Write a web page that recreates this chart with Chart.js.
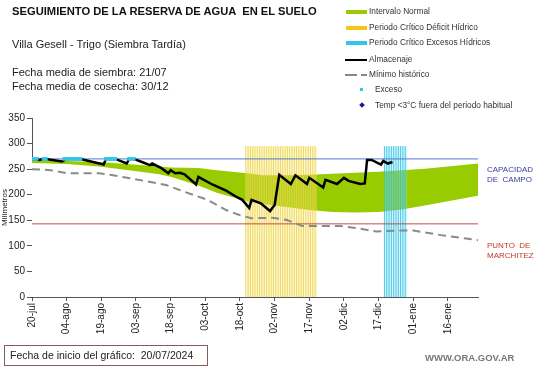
<!DOCTYPE html>
<html>
<head>
<meta charset="utf-8">
<script src="https://cdn.jsdelivr.net/npm/chart.js"></script>
<style>
  body { margin: 0; background: #fff; font-family: "Liberation Sans", Arial, sans-serif; }
  #wrap { position: relative; width: 541px; height: 368px; overflow: hidden; }
  #chart { position: absolute; left: 0; top: 0; }
  .txt { position: absolute; white-space: nowrap; color: #111; }
  .title { left: 12px; top: 5px; font-size: 11.2px; font-weight: bold; }
  .sub { left: 12px; font-size: 11px; color: #222; }
  .leg { position: absolute; left: 344px; font-size: 8.3px; color: #333; white-space: nowrap; }
  .leg i { position: absolute; display: block; }
  .side { position: absolute; left: 487px; font-size: 8px; line-height: 10px; }
  .box { position: absolute; left: 4px; top: 345px; width: 197px; height: 19px; border: 1px solid #8c5a5a; font-size: 10.5px; line-height: 19px; padding-left: 5px; color: #222; }
  .web { position: absolute; left: 425px; top: 352px; font-size: 9.5px; font-weight: bold; color: #777; }
</style>
</head>
<body>
<div id="wrap">
  <canvas id="chart" width="541" height="368"></canvas>
  <div class="txt title">SEGUIMIENTO DE LA RESERVA DE AGUA &nbsp;EN EL SUELO</div>
  <div class="txt sub" style="top:38px">Villa Gesell - Trigo (Siembra Tardía)</div>
  <div class="txt sub" style="top:66px">Fecha media de siembra: 21/07</div>
  <div class="txt sub" style="top:80px">Fecha media de cosecha: 30/12</div>

  <div class="leg" style="top:6px"><i style="left:2px;top:4px;width:21px;height:4px;background:#99cc00"></i><span style="margin-left:25px">Intervalo Normal</span></div>
  <div class="leg" style="top:22px"><i style="left:2px;top:4px;width:21px;height:4px;background:#f5c518"></i><span style="margin-left:25px">Periodo Crítico Déficit Hídrico</span></div>
  <div class="leg" style="top:37px"><i style="left:2px;top:4px;width:21px;height:4px;background:#33c6ea"></i><span style="margin-left:25px">Periodo Crítico Excesos Hídricos</span></div>
  <div class="leg" style="top:54px"><i style="left:1px;top:5px;width:22px;height:2px;background:#000"></i><span style="margin-left:25px">Almacenaje</span></div>
  <div class="leg" style="top:69px"><i style="left:1px;top:5px;width:12px;height:2px;background:#888"></i><i style="left:17px;top:5px;width:6px;height:2px;background:#888"></i><span style="margin-left:25px">Mínimo histórico</span></div>
  <div class="leg" style="top:84px"><i style="left:16px;top:4px;width:3px;height:3px;background:#33c6ea"></i><span style="margin-left:31px">Exceso</span></div>
  <div class="leg" style="top:100px"><i style="left:16px;top:3px;width:4px;height:4px;background:#1a1aa0;transform:rotate(45deg)"></i><span style="margin-left:31px">Temp &lt;3°C fuera del periodo habitual</span></div>

  <div class="side" style="top:165px;color:#3a3aa8">CAPACIDAD<br>DE &nbsp;CAMPO</div>
  <div class="side" style="top:241px;color:#c0392b">PUNTO &nbsp;DE<br>MARCHITEZ</div>

  <div class="box">Fecha de inicio del gráfico: &nbsp;20/07/2024</div>
  <div class="web">WWW.ORA.GOV.AR</div>
</div>
<script>
// dias desde el 20/07 (inicio del gráfico)
const tickLabels = ['20-jul', '04-ago', '19-ago', '03-sep', '18-sep', '03-oct', '18-oct', '02-nov', '17-nov', '02-dic', '17-dic', '01-ene', '16-ene'];

const normalDays   = [0, 15, 29, 47, 55, 60, 72, 80, 93, 100, 110, 120, 130, 140, 150, 160, 170, 180, 193];
const normalTop    = [267, 266, 264, 258, 255, 253, 252, 248, 242, 238, 238, 239, 241, 243, 245, 248, 251, 255, 261];
const normalBottom = [262, 260, 255, 245, 240, 235, 218, 204, 187, 182, 176, 170, 166, 165, 166, 171, 179, 187, 198];

const minDays = [0, 8, 15, 29, 35, 44, 58, 67, 76, 84, 90, 95, 104, 110, 117, 133, 140, 149, 158, 165, 177, 187, 193];
const minVals = [250, 248, 242, 242, 238, 231, 219, 204, 190, 170, 160, 154, 155, 151, 139, 139, 135, 128, 130, 130, 121, 115, 111];

const storeDays = [0, 3, 5, 6, 13, 15, 21, 31, 32, 36, 41, 42, 44, 47, 51, 52, 56, 59, 60, 62, 64, 66, 71, 72, 78, 84, 88, 91, 94, 95, 99, 103, 105, 107, 112, 114, 119, 120, 126, 127, 132, 135, 137, 142, 144, 145, 147, 151, 152, 154, 156];
const storeVals = [270, 268, 270, 270, 265, 270, 270, 259, 270, 270, 261, 270, 270, 265, 258, 261, 252, 242, 248, 242, 243, 240, 220, 235, 220, 208, 197, 190, 174, 190, 183, 168, 180, 239, 221, 238, 221, 233, 214, 229, 221, 233, 227, 221, 222, 268, 268, 259, 266, 261, 264];

const excesoDays = [0, 1, 2, 5, 6, 14, 15, 16, 17, 18, 19, 20, 21, 32, 33, 34, 35, 36, 42, 43, 44];
const excesoVal = 270;

const deficitDays = [93, 94, 95, 96, 97, 98, 99, 100, 101, 102, 103, 104, 105, 106, 107, 108, 109, 110, 111, 112, 113, 114, 115, 116, 117, 118, 119, 120, 121, 122, 123];
const excesoPerDays = [153, 154, 155, 156, 157, 158, 159, 160, 161, 162];
const periodTop = 295;

const capacidadCampo = 270;
const puntoMarchitez = 143;
const lastDay = 193;

const pts = (xs, ys) => xs.map((x, i) => ({ x: x, y: Array.isArray(ys) ? ys[i] : ys }));
const hline = (v) => [{ x: 0, y: v }, { x: lastDay, y: v }];
// una raya vertical por día del periodo crítico (null corta la línea)
const stripes = (days) => days.flatMap(d => [{ x: d - 0.5, y: 0 }, { x: d - 0.5, y: periodTop }, { x: d - 0.5, y: null }]);
const span = (days) => [{ x: days[0] - 0.5, y: periodTop }, { x: days[days.length - 1] + 0.5, y: periodTop }];

// el primer dataset queda arriba de todo
new Chart(document.getElementById('chart'), {
  type: 'line',
  data: {
    datasets: [
      { type: 'scatter', data: pts(excesoDays, excesoVal), pointStyle: 'rect', pointRadius: 2.6, backgroundColor: '#33c6ea', borderWidth: 0 },
      { data: pts(storeDays, storeVals), borderColor: '#000', borderWidth: 2.5, pointRadius: 0, fill: false },
      { data: pts(minDays, minVals), borderColor: '#8a8a8a', borderWidth: 2, borderDash: [8, 5], pointRadius: 0, fill: false },
      { data: hline(capacidadCampo), borderColor: '#4f7bd0', borderWidth: 1, pointRadius: 0, fill: false },
      { data: hline(puntoMarchitez), borderColor: '#c0504d', borderWidth: 1, pointRadius: 0, fill: false },
      { data: stripes(deficitDays), borderColor: 'rgba(238,208,60,0.8)', borderWidth: 1, pointRadius: 0, fill: false, spanGaps: false },
      { data: stripes(excesoPerDays), borderColor: 'rgba(40,195,230,0.85)', borderWidth: 1, pointRadius: 0, fill: false, spanGaps: false },
      { data: span(deficitDays), borderWidth: 0, pointRadius: 0, fill: 'origin', backgroundColor: 'rgba(250,232,120,0.3)' },
      { data: span(excesoPerDays), borderWidth: 0, pointRadius: 0, fill: 'origin', backgroundColor: 'rgba(140,220,242,0.3)' },
      // banda normal: borde inferior en blanco tapando el verde del borde superior
      { data: pts(normalDays, normalBottom), borderWidth: 0, pointRadius: 0, fill: 'origin', backgroundColor: '#ffffff' },
      { data: pts(normalDays, normalTop), borderWidth: 0, pointRadius: 0, fill: 'origin', backgroundColor: '#99cc00' }
    ]
  },
  options: {
    responsive: false,
    animation: false,
    events: [],
    layout: { padding: { left: 0, top: 118, right: 63, bottom: 30 } },
    plugins: { legend: { display: false }, tooltip: { enabled: false } },
    scales: {
      x: {
        type: 'linear', min: 0, max: lastDay, offset: false,
        afterFit: (s) => { s.height = 41; },
        border: { color: '#555' },
        grid: { drawOnChartArea: false, offset: false, tickLength: 4, color: '#555' },
        ticks: {
          stepSize: 15, includeBounds: false, autoSkip: false, minRotation: 90, maxRotation: 90, padding: 2,
          color: '#222', font: { family: 'Liberation Sans, Arial', size: 10 },
          callback: (v) => tickLabels[v / 15]
        }
      },
      y: {
        min: 0, max: 350,
        afterFit: (s) => { s.width = 32; },
        border: { color: '#555' },
        grid: { drawOnChartArea: false, tickLength: 5, color: '#555' },
        title: { display: true, text: 'Milímetros', color: '#222', font: { family: 'Liberation Sans, Arial', size: 8 }, padding: 0 },
        ticks: { stepSize: 50, padding: 2, color: '#222', font: { family: 'Liberation Sans, Arial', size: 10 } }
      }
    }
  }
});
</script>
</body>
</html>
